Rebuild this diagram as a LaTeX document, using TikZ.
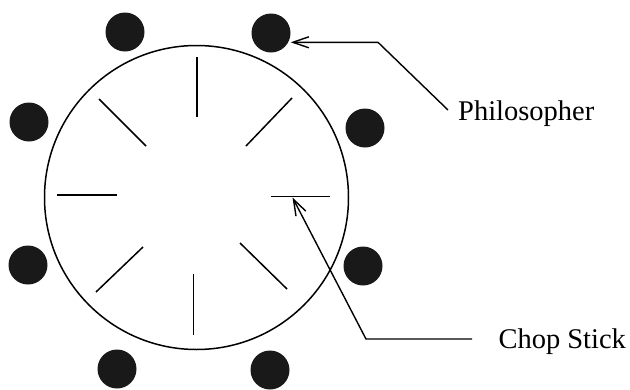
\documentclass[tikz,border=0pt]{standalone}
\usepackage{fontspec}
\setmainfont{Liberation Serif}
\usetikzlibrary{arrows.meta}
\begin{document}
\begin{tikzpicture}[x=1pt,y=-1pt,
  seat/.style={circle,fill=black!90,minimum size=39pt,inner sep=0pt},
  tablebox/.style={circle,draw,line width=1.5pt,minimum size=304pt,inner sep=0pt},
  stick/.style={line width=1.5pt},
  lbl/.style={anchor=base west,inner sep=0pt,font=\fontsize{28.5}{32}\selectfont},
  pointer/.style={line width=1.4pt,-{Straight Barb[length=16pt,width=11pt,line width=1.4pt]}}]
\useasboundingbox (0,0) rectangle (630,389);
% table
\node[tablebox] (table) at (196.5,197.5) {};
% philosophers
\node[seat] (p1) at (125,32) {};
\node[seat] (p2) at (271,33) {};
\node[seat] (p3) at (29,122) {};
\node[seat] (p4) at (365,128) {};
\node[seat] (p5) at (28,265) {};
\node[seat] (p6) at (363,266) {};
\node[seat] (p7) at (117,369) {};
\node[seat] (p8) at (270,370) {};
% chop sticks
\draw[stick] (197,57) -- (197,117);
\draw[stick] (57,195) -- (117,195);
\coordinate (rs1) at (271,196.5);
\coordinate (rs2) at (330,196.5);
\draw[stick] (rs1) -- (rs2);
\draw[stick] (193.5,274) -- (193.5,335);
\draw[stick] (99,99) -- (146,146);
\draw[stick] (292,98) -- (246,146);
\draw[stick] (143,247) -- (96,292);
\draw[stick] (240,243) -- (287,289);
% labels
\node[lbl] (phil) at (458,120.5) {Philosopher};
\node[lbl] (chop) at (498.3,348.3) {Chop Stick};
% connectors
\coordinate (a1) at (448,110);
\coordinate (a2) at (378,42.3);
\draw[pointer] (a1) -- (a2) -- (p2.east |- a2);
\coordinate (b1) at (472,339);
\coordinate (b2) at (366,339);
\coordinate (cstip) at (292.5,197.5);
\draw[pointer] (b1) -- (b2) -- (cstip);
\end{tikzpicture}
\end{document}
